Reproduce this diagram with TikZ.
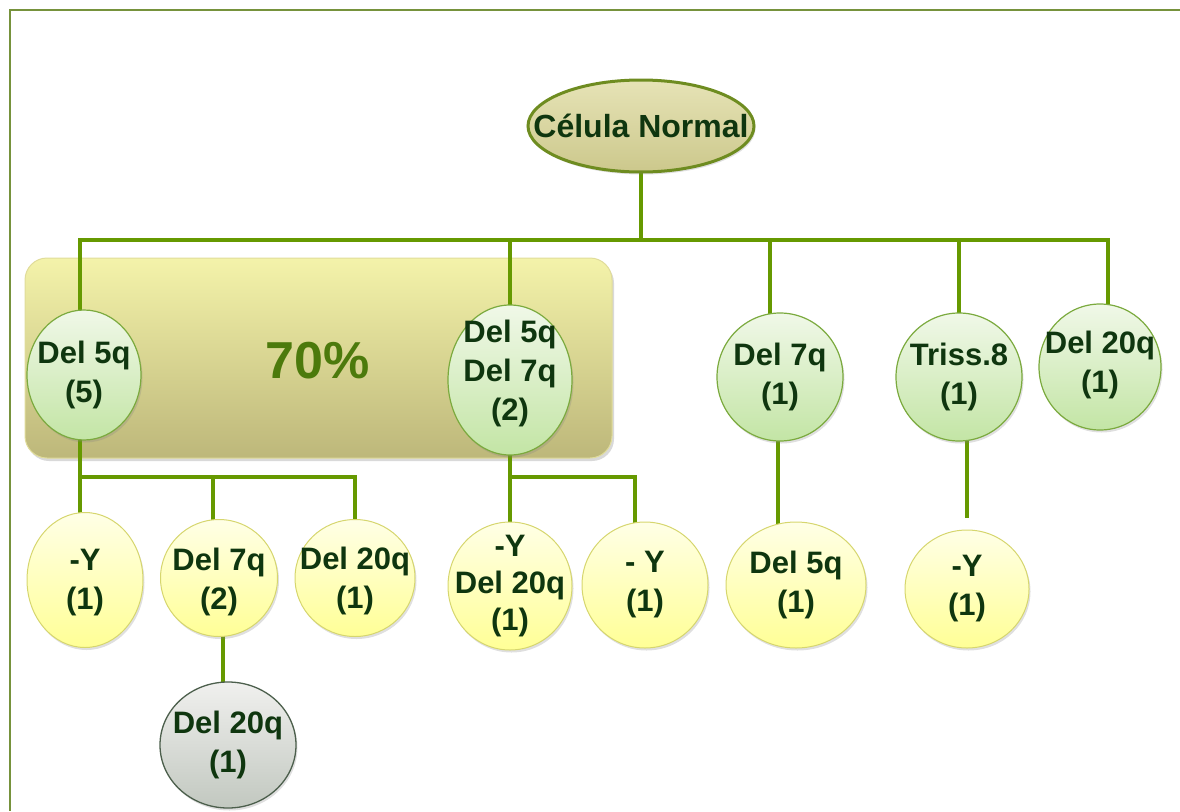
\documentclass[tikz,border=0pt]{standalone}
\usepackage{fontspec}
\setmainfont{Liberation Sans}
\usetikzlibrary{shapes.geometric,shadows,calc}
\pgfdeclarelayer{bg}
\pgfdeclarelayer{mid}
\pgfsetlayers{bg,mid,main}
\definecolor{linegreen}{HTML}{669900}
\definecolor{framecol}{HTML}{76923C}
\definecolor{txtgreen}{HTML}{0F360F}
\definecolor{pctgreen}{HTML}{4C7A0C}
\definecolor{gtop}{HTML}{F0F8E8}
\definecolor{gbot}{HTML}{C3E5A5}
\definecolor{gborder}{HTML}{7BAA3E}
\definecolor{ytop}{HTML}{FFFFE6}
\definecolor{ybot}{HTML}{FFFF96}
\definecolor{yborder}{HTML}{D6D66E}
\definecolor{greytop}{HTML}{F0F0EE}
\definecolor{greybot}{HTML}{C2C8C0}
\definecolor{greyborder}{HTML}{4C5F4C}
\definecolor{roottop}{HTML}{E6E3B6}
\definecolor{rootbot}{HTML}{CCC88C}
\definecolor{rootborder}{HTML}{6E8C20}
\definecolor{boxtop}{HTML}{F4F3AA}
\definecolor{boxbot}{HTML}{BDB77A}
\definecolor{boxborder}{HTML}{E0DC9A}
\tikzset{
  conn/.style={draw=linegreen, line width=4pt},
  frameline/.style={draw=framecol, line width=2pt},
  txt/.style={font=\bfseries\fontsize{31}{39}\selectfont, text=txtgreen, align=center},
  shad/.style={drop shadow={opacity=0.25, shadow xshift=1.5pt, shadow yshift=-2.5pt}},
  greennode/.style={ellipse, inner sep=0pt, draw=gborder, line width=1.2pt, top color=gtop, bottom color=gbot, shad},
  yellownode/.style={ellipse, inner sep=0pt, draw=yborder, line width=1pt, top color=ytop, bottom color=ybot, shad},
  greynode/.style={ellipse, inner sep=0pt, draw=greyborder, line width=1.3pt, top color=greytop, bottom color=greybot, shad},
  rootnode/.style={ellipse, inner sep=0pt, draw=rootborder, line width=3pt, top color=roottop, bottom color=rootbot, shad},
  groupbox/.style={rectangle, rounded corners=22pt, inner sep=0pt, draw=boxborder, line width=1pt, top color=boxtop, bottom color=boxbot, drop shadow={opacity=0.3, shadow xshift=2pt, shadow yshift=-3pt}},
  pct/.style={font=\bfseries\fontsize{52}{60}\selectfont, text=pctgreen}
}
\begin{document}
\begin{tikzpicture}[x=1pt,y=-1pt]
\useasboundingbox (0,0) rectangle (1180,811);
\draw[frameline] (1180,10) -- (10,10) -- (10,811);

% group box
\begin{pgfonlayer}{bg}
\node[groupbox, minimum width=587pt, minimum height=200pt] (box) at (318.5,358) {};
\end{pgfonlayer}
\node[pct] (pctlabel) at (318,361) {70\%};

% root
\node[rootnode, minimum width=226pt, minimum height=92pt,
  label={[txt, font=\bfseries\fontsize{32}{39}\selectfont]center:Célula Normal}] (root) at (641,126) {};

% level 1
\node[greennode, minimum width=114pt, minimum height=130pt,
  label={[txt]center:Del 5q\\(5)}] (a) at (84,375) {};
\node[greennode, minimum width=124pt, minimum height=150pt,
  label={[txt, yshift=7pt]center:Del 5q\\Del 7q\\(2)}] (b) at (510,380) {};
\node[greennode, minimum width=126pt, minimum height=128pt,
  label={[txt]center:Del 7q\\(1)}] (c) at (780,377) {};
\node[greennode, minimum width=126pt, minimum height=128pt,
  label={[txt]center:Triss.8\\(1)}] (d) at (959,377) {};
\node[greennode, minimum width=122pt, minimum height=126pt,
  label={[txt, yshift=2pt]center:Del 20q\\(1)}] (e) at (1100,367) {};

% level 2
\node[yellownode, minimum width=116pt, minimum height=135pt,
  label={[txt, yshift=-3pt]center:-Y\\(1)}] (a1) at (85,580) {};
\node[yellownode, minimum width=117pt, minimum height=117pt,
  label={[txt, yshift=-4pt]center:Del 7q\\(2)}] (a2) at (219,578) {};
\node[yellownode, minimum width=120pt, minimum height=117pt,
  label={[txt, yshift=-3pt]center:Del 20q\\(1)}] (a3) at (355,578) {};
\node[greynode, minimum width=136pt, minimum height=126pt,
  label={[txt]center:Del 20q\\(1)}] (a2a) at (228,745) {};
\node[yellownode, minimum width=124pt, minimum height=128pt,
  label={[txt, font=\bfseries\fontsize{31}{37}\selectfont]center:-Y\\Del 20q\\(1)}] (b1) at (510,586) {};
\node[yellownode, minimum width=126pt, minimum height=126pt,
  label={[txt]center:- Y\\(1)}] (b2) at (645,585) {};
\node[yellownode, minimum width=140pt, minimum height=126pt,
  label={[txt]center:Del 5q\\(1)}] (c1) at (796,585) {};
\node[yellownode, minimum width=124pt, minimum height=118pt,
  label={[txt]center:-Y\\(1)}] (d1) at (967,589) {};

% connectors
\begin{pgfonlayer}{mid}
\coordinate (hub) at (641,240);
\draw[conn] (root.center) -- (hub);
\draw[conn] ($(a.center)+(-4,0)$) |- (hub) -| ($(e.center)+(8,0)$);
\draw[conn] (b.center) -- (b.center |- hub);
\coordinate (cup) at ($(c.center)+(-10,0)$);
\draw[conn] (cup) -- (cup |- hub);
\draw[conn] (d.center) -- (d.center |- hub);

\coordinate (aj) at (80,477);
\draw[conn] ($(a.center)+(-4,0)$) -- ($(a1.center)+(-5,0)$);
\draw[conn] (aj) -| (a3.center);
\draw[conn] ($(a2.center)+(-6,0)$) |- (aj);
\draw[conn] ($(a2.center)+(4,0)$) -- ($(a2a.center)+(-5,0)$);

\coordinate (bj) at (510,477);
\draw[conn] (b.center) -- (b1.center);
\draw[conn] (bj) -| ($(b2.center)+(-10,0)$);

\draw[conn] ($(c.center)+(-2,0)$) -- ($(c1.center)+(-18,0)$);

\coordinate (dend) at ($(d1.north)+(0,-12)$);
\draw[conn] ($(d.center)+(8,0)$) -- (dend);
\end{pgfonlayer}
\end{tikzpicture}
\end{document}
